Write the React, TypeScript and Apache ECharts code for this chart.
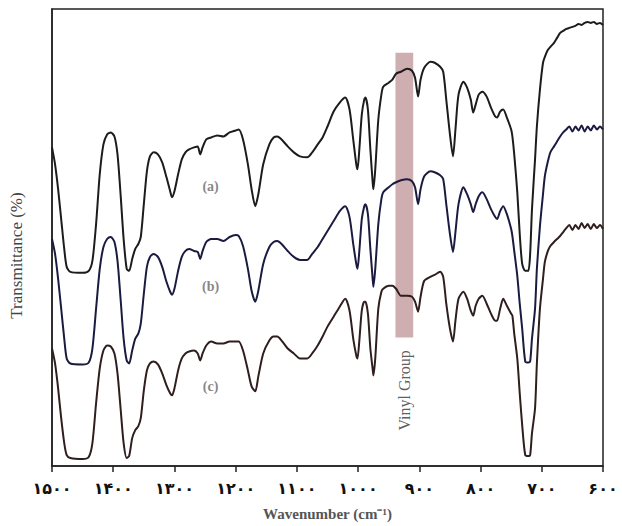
import React, { useEffect, useRef } from "react";
import * as echarts from "echarts";

// Wavenumbers (cm^-1) at which the three spectra were read
const wavenumbers = [1500,1495,1490,1485,1480,1476,1470,1450,1440,1434,1428,1422,1416,1410,1404,1398,1393,1388,1383,1378,1374,1369,1364,1359,1355,1350,1345,1340,1334,1327,1320,1313,1307,1304,1300,1294,1288,1282,1276,1268,1262,1258,1254,1248,1240,1230,1220,1210,1200,1195,1188,1180,1174,1168,1163,1155,1145,1138,1132,1125,1115,1105,1095,1083,1075,1066,1058,1050,1040,1030,1021,1014,1008,1003,1001,998,994,990,988,984,980,976,975,972,967,962,959,950,944,938,930,920,912,907,902,898,892,882,875,866,861,856,850,845,841,836,828,822,816,812,808,803,797,790,783,776,773,768,763,757,750,748,745,740,736,732,727,722,719,716,711,708,703,698,695,690,686,680,675,670,665,660,655,650,645,640,635,630,625,620,615,610,605,600];

// Offset transmittance (arbitrary units) of spectrum (a)
const seriesA = [320,303,278,248,218,200,195,194,196,206,243,293,323,333,335,331,313,273,228,198,196,208,218,223,230,263,296,311,315,313,305,290,276,270,276,293,308,315,318,320,321,313,320,328,330,332,331,335,337,338,328,303,278,261,273,303,323,330,331,328,321,315,311,310,315,323,330,341,356,365,370,358,328,303,298,318,353,368,370,358,318,283,278,298,348,373,381,385,388,394,396,399,397,390,371,388,400,406,405,401,396,368,333,311,338,373,386,380,368,355,363,373,376,371,360,351,350,356,358,350,338,331,313,275,233,203,196,196,213,258,308,341,378,405,411,418,421,425,430,435,437,439,440,441,442,444,443,445,446,445,446,444,445,443];

// Spectrum (b)
const seriesB = [228,213,188,158,128,108,103,102,104,118,158,198,220,228,230,225,206,168,128,106,103,116,128,133,143,173,200,210,213,210,200,185,175,172,178,196,210,216,218,216,215,208,216,225,228,228,226,230,232,231,221,198,176,165,176,203,220,225,226,223,216,210,207,207,213,220,228,236,246,256,261,250,223,203,198,216,248,261,263,253,218,186,180,198,243,268,275,280,283,285,287,288,286,280,263,278,291,296,295,292,288,263,233,215,235,263,280,273,263,255,263,271,275,268,258,250,248,256,261,253,238,231,216,191,163,138,105,104,105,128,158,198,241,273,291,306,315,321,326,331,335,338,341,336,341,337,342,336,341,337,342,338,341,338];

// Spectrum (c)
const seriesC = [118,103,78,48,23,11,8,7,9,23,63,98,116,121,120,113,93,58,23,8,10,28,36,40,48,76,96,103,105,102,93,81,73,71,78,96,108,113,115,116,113,106,113,121,125,123,123,125,125,125,116,96,80,75,90,113,126,130,130,126,118,113,108,108,113,121,130,140,150,160,168,156,128,111,108,126,156,165,165,153,118,96,91,108,158,175,178,181,181,178,171,171,170,165,155,170,186,190,192,195,190,163,138,125,146,168,175,168,156,151,161,168,171,163,153,146,146,158,168,161,153,151,133,108,73,41,11,10,11,33,58,103,158,188,205,216,221,225,228,231,235,239,242,237,242,238,244,239,243,238,243,239,242,238];

// Curve labels
const curveLabels = ["(a)", "(b)", "(c)"];
const curveLabelX = [1241, 1241, 1241];
const curveLabelY = [281, 180, 80];

// Vinyl group band
const vinylBand = { from: 939, to: 910, top: 415, bottom: 129 };
const vinylText = "Vinyl Group";
const vinylTextX = 925;
const vinylTextY = 76;

const xTicks = { min: 600, max: 1500, interval: 100 };
const persianDigits = "۰۱۲۳۴۵۶۷۸۹";
const toPersian = (n: number) =>
  String(n).replace(/[0-9]/g, (d) => persianDigits[Number(d)]);

export default function App() {
  const ref = useRef<HTMLDivElement>(null);
  useEffect(() => {
    if (!ref.current) return;
    const chart = echarts.init(ref.current, undefined, { renderer: "svg" });
    const pairs = (vals: number[]) => wavenumbers.map((w, i) => [w, vals[i]]);
    const lineBase = {
      type: "line",
      showSymbol: false,
      symbol: "none",
      smooth: 0.25,
      z: 3,
    };
    chart.setOption({
      animation: false,
      backgroundColor: "#ffffff",
      grid: {
        left: 51,
        right: 19,
        top: 9,
        bottom: 58,
        show: true,
        borderColor: "#222",
        borderWidth: 1.5,
      },
      xAxis: {
        type: "value",
        inverse: true,
        min: xTicks.min,
        max: xTicks.max,
        interval: xTicks.interval,
        name: "Wavenumber (cm⁻¹)",
        nameLocation: "middle",
        nameGap: 40,
        nameTextStyle: {
          fontFamily: "Liberation Serif",
          fontWeight: "bold",
          fontSize: 15,
          color: "#555",
        },
        axisLine: { show: true, lineStyle: { color: "#222", width: 1.5 } },
        axisTick: { show: true, inside: false, length: 6, lineStyle: { color: "#222", width: 1.5 } },
        axisLabel: {
          formatter: (v: number) => toPersian(v),
          fontFamily: "DejaVu Sans",
          fontWeight: "bold",
          fontSize: 16,
          color: "#111",
          margin: 14,
        },
        splitLine: { show: false },
      },
      yAxis: {
        type: "value",
        min: 0,
        max: 459,
        name: "Transmittance (%)",
        nameLocation: "middle",
        nameGap: 27,
        nameTextStyle: {
          fontFamily: "Liberation Serif",
          fontSize: 17,
          color: "#444",
          padding: [0, 36, 0, 0],
        },
        axisLine: { show: true, lineStyle: { color: "#222", width: 1.5 } },
        axisTick: { show: false },
        axisLabel: { show: false },
        splitLine: { show: false },
      },
      series: [
        {
          ...lineBase,
          name: "a",
          data: pairs(seriesA),
          lineStyle: { color: "#1c1c1c", width: 2 },
          markArea: {
            silent: true,
            z: 1,
            itemStyle: { color: "#c9a5a9", opacity: 0.9 },
            data: [
              [
                { coord: [vinylBand.from, vinylBand.top] },
                { coord: [vinylBand.to, vinylBand.bottom] },
              ],
            ],
          },
        },
        {
          ...lineBase,
          name: "b",
          data: pairs(seriesB),
          lineStyle: { color: "#1b1b40", width: 2 },
        },
        {
          ...lineBase,
          name: "c",
          data: pairs(seriesC),
          lineStyle: { color: "#2f1e1e", width: 2 },
        },
        {
          type: "scatter",
          symbolSize: 0,
          silent: true,
          data: curveLabels.map((t, i) => [curveLabelX[i], curveLabelY[i], t]),
          label: {
            show: true,
            position: "inside",
            formatter: (p: any) => p.value[2],
            fontFamily: "Liberation Serif",
            fontWeight: "bold",
            fontSize: 14,
            color: "#666",
          },
        },
        {
          type: "scatter",
          symbolSize: 0,
          silent: true,
          data: [[vinylTextX, vinylTextY, vinylText]],
          label: {
            show: true,
            position: "inside",
            rotate: 90,
            formatter: (p: any) => p.value[2],
            fontFamily: "Liberation Serif",
            fontSize: 16,
            color: "#333",
          },
        },
      ],
    });
    return () => chart.dispose();
  }, []);
  return (
    <div
      ref={ref}
      style={{ position: "fixed", left: 0, top: 0, width: 622, height: 526 }}
    />
  );
}
